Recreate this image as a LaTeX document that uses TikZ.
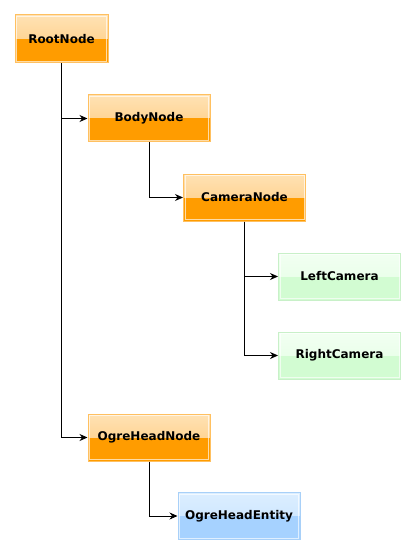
\documentclass[tikz,border=0pt]{standalone}
\usepackage{fontspec}
\setmainfont{DejaVu Sans}
\usetikzlibrary{arrows.meta}
\definecolor{orBorder}{HTML}{FFC060}
\definecolor{orTop}{HTML}{FFE2B4}
\definecolor{orMid}{HTML}{FFC878}
\definecolor{orBot}{HTML}{FF9C00}
\definecolor{grBorder}{HTML}{C8F0C8}
\definecolor{grTop}{HTML}{F2FFF2}
\definecolor{grMid}{HTML}{E2FFE2}
\definecolor{grBot}{HTML}{D2FCD2}
\definecolor{blBorder}{HTML}{A8D0F8}
\definecolor{blTop}{HTML}{DCEEFF}
\definecolor{blMid}{HTML}{C4E2FF}
\definecolor{blBot}{HTML}{A6D2FF}
\tikzset{
  gbox/.style n args={4}{draw=#1, line width=1pt, minimum width=122pt, minimum height=47pt,
    inner sep=0pt, font=\fontsize{12}{14}\selectfont\bfseries, text=black,
    path picture={
      \fill[top color=#2, bottom color=#3] (path picture bounding box.north west) rectangle (path picture bounding box.east);
      \fill[#4] (path picture bounding box.west) rectangle (path picture bounding box.south east);
      \draw[white, opacity=0.65, line width=1pt] ([shift={(1.5pt,-1.5pt)}]path picture bounding box.north west) rectangle ([shift={(-1.5pt,1.5pt)}]path picture bounding box.south east);
    }},
  obox/.style={gbox={orBorder}{orTop}{orMid}{orBot}},
  grbox/.style={gbox={grBorder}{grTop}{grMid}{grBot}},
  blbox/.style={gbox={blBorder}{blTop}{blMid}{blBot}},
  conn/.style={draw=black, line width=0.8pt, -{Stealth[length=8pt,width=7pt]}}
}
\begin{document}
\begin{tikzpicture}[x=1pt,y=-1pt]
\useasboundingbox (0,0) rectangle (417,556);
\node[obox, minimum width=93pt, minimum height=48pt] (root) at (61.5,39) {RootNode};
\node[obox] (body) at (149,118.5) {BodyNode};
\node[obox] (cam) at (244.5,197.5) {CameraNode};
\node[grbox] (left) at (339.5,276.5) {LeftCamera};
\node[grbox] (right) at (339.5,355.5) {RightCamera};
\node[obox] (ohn) at (149,437.5) {OgreHeadNode};
\node[blbox] (ohe) at (239,516) {OgreHeadEntity};
\draw[conn] (root.south) |- (body.west);
\draw[conn] (root.south) |- (ohn.west);
\draw[conn] (body.south) |- (cam.west);
\draw[conn] (cam.south) |- (left.west);
\draw[conn] (cam.south) |- (right.west);
\draw[conn] (ohn.south) |- (ohe.west);
\end{tikzpicture}
\end{document}
